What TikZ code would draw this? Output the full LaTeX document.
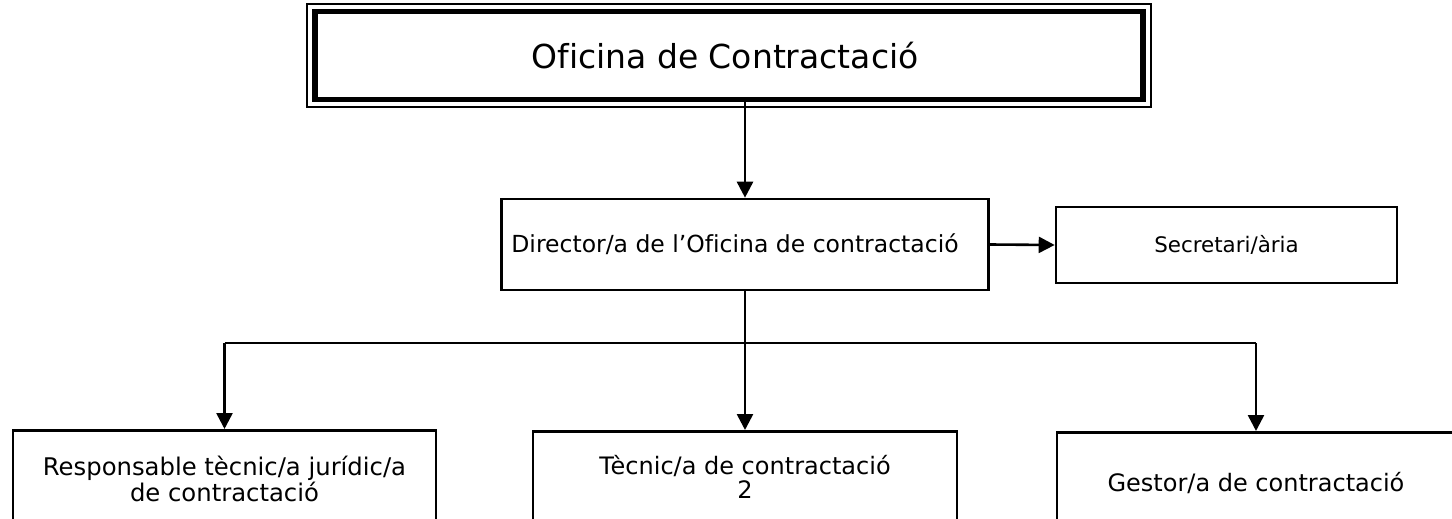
\documentclass[tikz,border=0pt]{standalone}
\usepackage{fontspec}
\setmainfont{DejaVu Sans}[Ligatures=NoCommon]
\usetikzlibrary{arrows.meta}
\begin{document}
\begin{tikzpicture}[x=1pt,y=-1pt,
  box/.style={draw=black, line width=2.6pt, inner sep=0pt, align=center, fill=white},
  conn/.style={line width=2.6pt, -{Triangle[length=16pt,width=16pt]}},
  bar/.style={line width=2.6pt}]
\useasboundingbox (0,0) rectangle (1452,519);
\clip (0,0) rectangle (1452,519);
\node[box, line width=5.5pt, minimum width=828pt, minimum height=88pt,
  font=\fontsize{33}{38}\selectfont] (top) at (729,55.5) {Oficina de Contractació\hspace*{8pt}};
\draw[line width=1.6pt] ([shift={(-5pt,5pt)}]top.north west) rectangle ([shift={(5pt,-5pt)}]top.south east);
\node[box, minimum width=487pt, minimum height=91pt,
  font=\fontsize{23.5}{26}\selectfont] (dir) at (745,244.5) {Director/a de l’Oficina de contractació\hspace*{20pt}};
\node[box, minimum width=341pt, minimum height=76pt,
  font=\fontsize{21.4}{24}\selectfont] (sec) at (1226.5,245) {Secretari/ària};
\node[box, anchor=north, minimum width=423pt, minimum height=97pt,
  font=\fontsize{24.3}{22.5}\selectfont] (b1) at (224.5,429) {Responsable tècnic/a jurídic/a\\de contractació};
\node[box, anchor=north, minimum width=424pt, minimum height=91pt,
  font=\fontsize{24}{23.5}\selectfont] (b2) at (745,430) {Tècnic/a de contractació\\2};
\node[box, anchor=north, minimum width=398pt, minimum height=102pt,
  font=\fontsize{24}{26}\selectfont] (b3) at (1256,431) {Gestor/a de contractació};
\coordinate (bus) at (745,343);
\draw[conn] (dir.north |- top.south) -- (dir.north);
\draw[conn] (dir.east) -- (sec.west);
\draw[bar] (dir.south) -- (bus);
\draw[bar] (b1.north |- bus) -- (b3.north |- bus);
\draw[conn] (bus) -- (b2.north);
\draw[conn] (b1.north |- bus) -- (b1.north);
\draw[conn] (b3.north |- bus) -- (b3.north);
\end{tikzpicture}
\end{document}
